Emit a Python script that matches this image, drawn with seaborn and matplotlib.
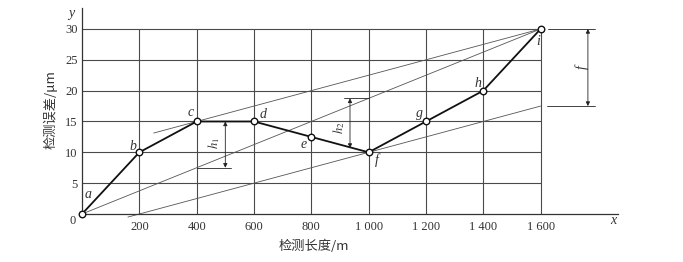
import matplotlib
matplotlib.use("Agg")
import matplotlib.pyplot as plt
import matplotlib.transforms as mtransforms
import seaborn as sns
import numpy as np
import pandas as pd

# ---- data ----
x_vals = [0, 200, 400, 600, 800, 1000, 1200, 1400, 1600]
y_vals = [0, 10, 15, 15, 12.5, 10, 15, 20, 30]
point_labels = ["a", "b", "c", "d", "e", "f", "g", "h", "i"]
x_ticks = [200, 400, 600, 800, 1000, 1200, 1400, 1600]
x_tick_labels = ["200", "400", "600", "800", "1 000", "1 200", "1 400", "1 600"]
y_ticks = [0, 5, 10, 15, 20, 25, 30]
y_tick_labels = ["0", "5", "10", "15", "20", "25", "30"]
x_title = "检测长度/m"
y_title = "检测误差/μm"

df = pd.DataFrame({"x": x_vals, "y": y_vals, "label": point_labels})

sns.set_theme(style="white")
plt.rcParams["font.family"] = ["Liberation Serif", "Noto Sans CJK SC", "DejaVu Sans"]
plt.rcParams["mathtext.fontset"] = "stix"

fig = plt.figure(figsize=(6.83, 2.62), dpi=100)
ax = fig.add_axes([82 / 683, 48 / 262, 536 / 683, 206 / 262])
ax.set_xlim(0, 1870)
ax.set_ylim(0, 33.4)

txt = "#333333"
grid_c = "#4a4a4a"

# grid
for xv in x_ticks:
    ax.plot([xv, xv], [0, 30], color=grid_c, lw=0.8, zorder=1)
for yv in y_ticks[1:]:
    ax.plot([0, 1600], [yv, yv], color=grid_c, lw=0.8, zorder=1)

# reference lines derived from data points
xa, ya = x_vals[0], y_vals[0]
xc, yc = x_vals[2], y_vals[2]
xf, yf = x_vals[5], y_vals[5]
xi, yi = x_vals[8], y_vals[8]
s_ai = (yi - ya) / (xi - xa)
s_ci = (yi - yc) / (xi - xc)
thin = dict(color="#555555", lw=0.6, zorder=2)
ax.plot([xa, xi], [ya, yi], **thin)
x0 = 250
ax.plot([x0, xi], [yc + s_ci * (x0 - xc), yi], **thin)
x1 = 160
ax.plot([x1, xi], [yf + s_ci * (x1 - xf), yf + s_ci * (xi - xf)], clip_on=False, **thin)

# main polyline
sns.lineplot(data=df, x="x", y="y", ax=ax, color="#111111", lw=1.3, sort=False,
             zorder=3, legend=False)
sns.scatterplot(data=df, x="x", y="y", ax=ax, s=22, facecolor="white",
                edgecolor="#111111", linewidth=1.0, zorder=4, clip_on=False, legend=False)

# point labels
offs = {"a": (21, 3.2), "b": (178, 11.0), "c": (380, 16.5), "d": (631, 16.2),
        "e": (772, 11.3), "f": (1029, 8.8), "g": (1176, 16.3), "h": (1383, 21.2),
        "i": (1591, 27.9)}
for lab in point_labels:
    px, py = offs[lab]
    ax.text(px, py, lab, fontsize=10, style="italic", color=txt,
            ha="center", va="center", zorder=5)

arrow_kw = dict(arrowstyle="<|-|>", color="#222222", lw=0.6,
                mutation_scale=6, shrinkA=0, shrinkB=0)

# h1 dimension
h1_low = ya + s_ai * (xc - xa)
ax.plot([400, 520], [h1_low, h1_low], color="#222222", lw=0.6, zorder=2)
ax.annotate("", xy=(500, yc), xytext=(500, h1_low), arrowprops=arrow_kw)
ax.text(462, (yc + h1_low) / 2 + 0.3, "$h_1$", rotation=90, fontsize=9,
        color=txt, ha="center", va="center")

# h2 dimension
h2_top = ya + s_ai * (xf - xa)
ax.plot([915, 1000], [h2_top, h2_top], color="#222222", lw=0.6, zorder=2)
ax.annotate("", xy=(935, h2_top), xytext=(935, 10.7), arrowprops=arrow_kw)
ax.text(898, 14.0, "$h_2$", rotation=90, fontsize=9, color=txt,
        ha="center", va="center")

# f dimension
f_low = yf + s_ci * (xi - xf)
ax.plot([1625, 1790], [yi, yi], color="#222222", lw=0.6, clip_on=False)
ax.plot([1622, 1790], [f_low, f_low], color="#222222", lw=0.6, clip_on=False)
ax.annotate("", xy=(1765, yi), xytext=(1765, f_low), arrowprops=arrow_kw,
            annotation_clip=False)
ax.text(1745, (yi + f_low) / 2, "f", rotation=90, fontsize=10, style="italic",
        color=txt, ha="center", va="center")

# axes styling
sns.despine(ax=ax, top=True, right=True)
for sp in ["left", "bottom"]:
    ax.spines[sp].set_color("#333333")
    ax.spines[sp].set_linewidth(0.9)
ax.set_xticks(x_ticks)
ax.set_xticklabels(x_tick_labels, fontsize=9, color=txt)
ax.set_yticks(y_ticks)
ax.set_yticklabels(y_tick_labels, fontsize=9, color=txt)
ax.tick_params(axis="both", length=0, pad=3)
ax.tick_params(axis="x", pad=5)
ax.set_xlabel("")
ax.set_ylabel("")

# shift the origin "0" label down-left like the reference
zero_lab = ax.get_yticklabels()[0]
zero_lab.set_transform(zero_lab.get_transform() +
                       mtransforms.ScaledTranslation(-2 / 100, -6 / 100, fig.dpi_scale_trans))

fig.text(314 / 683, 1 - 246 / 262, x_title, fontsize=9.5, color=txt,
         ha="center", va="center",
         family=["Noto Sans CJK SC", "DejaVu Sans"])
fig.text(50 / 683, 1 - 110 / 262, y_title, fontsize=9.5, color=txt,
         ha="center", va="center", rotation=90,
         family=["Noto Sans CJK SC", "DejaVu Sans"])
fig.text(613 / 683, 1 - 220 / 262, "x", fontsize=10, style="italic", color=txt,
         ha="center", va="center")
fig.text(71 / 683, 1 - 13 / 262, "y", fontsize=10, style="italic", color=txt,
         ha="center", va="center")

fig.savefig("out.png", dpi=100)
